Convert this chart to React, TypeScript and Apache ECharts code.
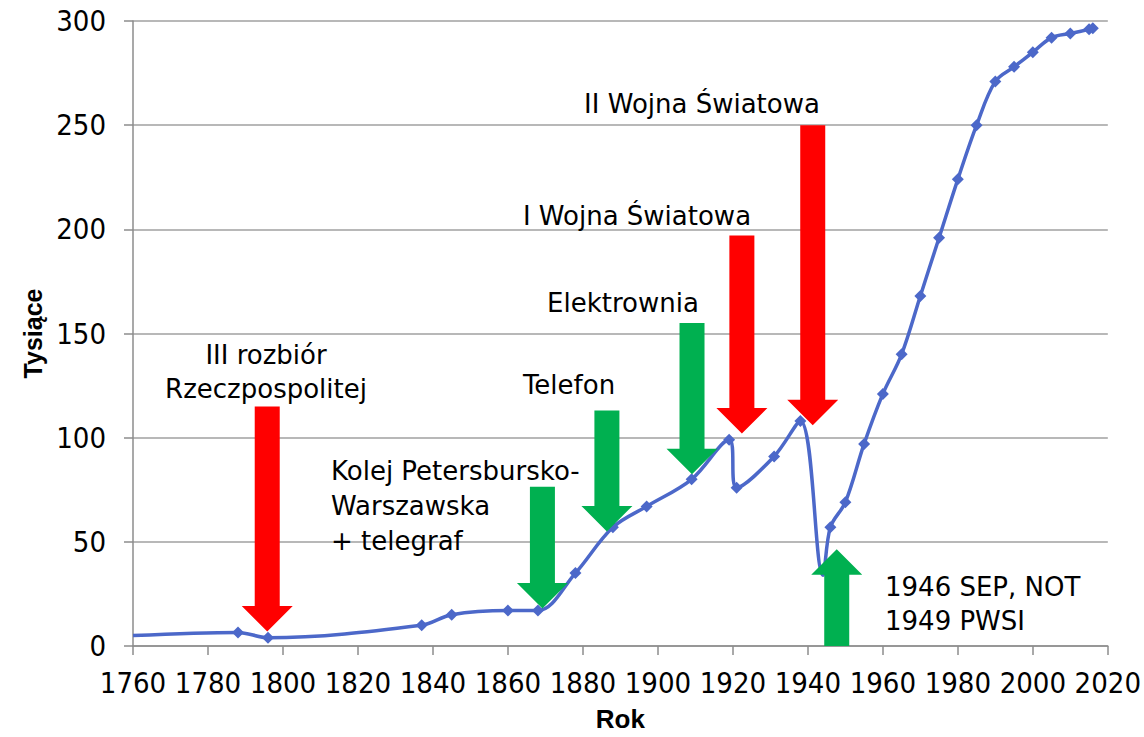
import React, { useEffect, useRef } from "react";
import * as echarts from "echarts";

// ---- data ----
const years = [1760, 1788, 1796, 1837, 1845, 1860, 1868, 1878, 1888, 1897, 1909, 1919, 1921, 1931, 1938, 1944, 1946, 1950, 1955, 1960, 1965, 1970, 1975, 1980, 1985, 1990, 1995, 2000, 2005, 2010, 2015, 2016];
const values = [5, 6.5, 4, 10, 15, 17, 17, 35, 57, 67, 80, 99, 76, 91, 108, 34, 57, 69, 97, 121, 140, 168, 196, 224, 250, 271, 278, 285, 292, 294, 296, 296.5];
const hiddenMarkerYears = [1760, 1944];

const xTicks = { min: 1760, max: 2020, interval: 20 };
const yTicks = { min: 0, max: 300, interval: 50 };

// arrows: x position (year), tail value, tip value, colour index (0 red, 1 green)
const arrowX = [1795.8, 1869.2, 1886.4, 1909.1, 1922.4, 1941.3, 1947.7];
const arrowFrom = [115, 76.5, 113, 155, 197, 250, 0];
const arrowTo = [7, 18, 55, 82.5, 102, 106, 46.5];
const arrowColor = [0, 1, 1, 1, 0, 0, 1];

const annotations = [
  "III rozbiór\nRzeczpospolitej",
  "Kolej Petersbursko-\nWarszawska\n+ telegraf",
  "Telefon",
  "Elektrownia",
  "I Wojna Światowa",
  "II Wojna Światowa",
  "1946 SEP, NOT\n1949 PWSI",
];

const xName = "Rok";
const yName = "Tysiące";

const COLORS = ["#FF0000", "#00B050"];
const LINE = "#4C68C9";
const ANN_FONT = "'DejaVu Sans', sans-serif";
const AX_FONT = "'Liberation Sans Narrow', 'DejaVu Sans Condensed', 'Liberation Sans', sans-serif";
const NAME_FONT = "'Liberation Sans', Arial, sans-serif";

export default function App() {
  const ref = useRef<HTMLDivElement>(null);
  useEffect(() => {
    if (!ref.current) return;
    const chart = echarts.init(ref.current, undefined, { renderer: "svg" });

    const lineData = years.map((y, i) =>
      hiddenMarkerYears.includes(y)
        ? { value: [y, values[i]], symbol: "none" }
        : [y, values[i]]
    );
    const arrowData = arrowX.map((x, i) => [x, arrowFrom[i], arrowTo[i], arrowColor[i]]);

    const annPos: any[] = [
      { x: 266, y: 372, align: "center", lh: 34 },
      { x: 331, y: 506, align: "left", lh: 35 },
      { x: 569, y: 385, align: "center", lh: 34 },
      { x: 623, y: 303, align: "center", lh: 34 },
      { x: 637, y: 216, align: "center", lh: 34 },
      { x: 702, y: 104, align: "center", lh: 34 },
      { x: 885, y: 604, align: "left", lh: 34 },
    ];

    const option: any = {
      animation: false,
      backgroundColor: "#ffffff",
      grid: { left: 133, right: 36, top: 21, bottom: 88, containLabel: false },
      xAxis: {
        type: "value",
        min: xTicks.min,
        max: xTicks.max,
        interval: xTicks.interval,
        name: xName,
        nameLocation: "middle",
        nameGap: 60,
        nameTextStyle: { fontFamily: NAME_FONT, fontSize: 26, fontWeight: "bold", color: "#000" },
        axisLine: { show: true, lineStyle: { color: "#8c8c8c", width: 1.5 } },
        axisTick: { show: true, length: 9, lineStyle: { color: "#8c8c8c", width: 1.5 } },
        axisLabel: {
          fontFamily: AX_FONT,
          fontSize: 29,
          color: "#000",
          margin: 22,
          formatter: (v: number) => String(v),
        },
        splitLine: { show: false },
      },
      yAxis: {
        type: "value",
        min: yTicks.min,
        max: yTicks.max,
        interval: yTicks.interval,
        name: yName,
        nameLocation: "middle",
        nameGap: 74,
        nameTextStyle: { fontFamily: NAME_FONT, fontSize: 25, fontWeight: "bold", color: "#000" },
        axisLine: { show: true, lineStyle: { color: "#8c8c8c", width: 1.5 } },
        axisTick: { show: true, length: 9, lineStyle: { color: "#8c8c8c", width: 1.5 } },
        axisLabel: {
          fontFamily: AX_FONT,
          fontSize: 29,
          color: "#000",
          margin: 27,
          formatter: (v: number) => String(v),
        },
        splitLine: { show: true, lineStyle: { color: "#a0a0a0", width: 1.5 } },
      },
      series: [
        {
          type: "line",
          data: lineData,
          smooth: 0.35,
          symbol: "diamond",
          symbolSize: 12,
          z: 2,
          lineStyle: { color: LINE, width: 3.5 },
          itemStyle: { color: LINE },
        },
        {
          type: "custom",
          z: 5,
          data: arrowData,
          encode: { x: 0, y: [1, 2] },
          renderItem: (params: any, api: any) => {
            const x = api.value(0);
            const from = api.value(1);
            const to = api.value(2);
            const ci = api.value(3);
            const a = api.coord([x, from]);
            const b = api.coord([x, to]);
            const dir = b[1] > a[1] ? 1 : -1;
            const hw = 12.5;
            const hh = 25.5;
            const hl = 25.5;
            const baseY = b[1] - dir * hl;
            const cx = a[0];
            return {
              type: "polygon",
              shape: {
                points: [
                  [cx - hw, a[1]],
                  [cx + hw, a[1]],
                  [cx + hw, baseY],
                  [cx + hh, baseY],
                  [cx, b[1]],
                  [cx - hh, baseY],
                  [cx - hw, baseY],
                ],
              },
              style: { fill: COLORS[ci] },
            };
          },
        },
      ],
      graphic: annotations.map((t, i) => ({
        type: "text",
        x: annPos[i].x,
        y: annPos[i].y,
        z: 10,
        style: {
          text: t,
          fontFamily: ANN_FONT,
          fontSize: 26,
          fill: "#000",
          align: annPos[i].align,
          verticalAlign: "middle",
          lineHeight: annPos[i].lh,
        },
      })),
    };

    chart.setOption(option);
    return () => chart.dispose();
  }, []);

  return (
    <div
      ref={ref}
      style={{ position: "fixed", left: 0, top: 0, width: 1144, height: 737, background: "#fff" }}
    />
  );
}
